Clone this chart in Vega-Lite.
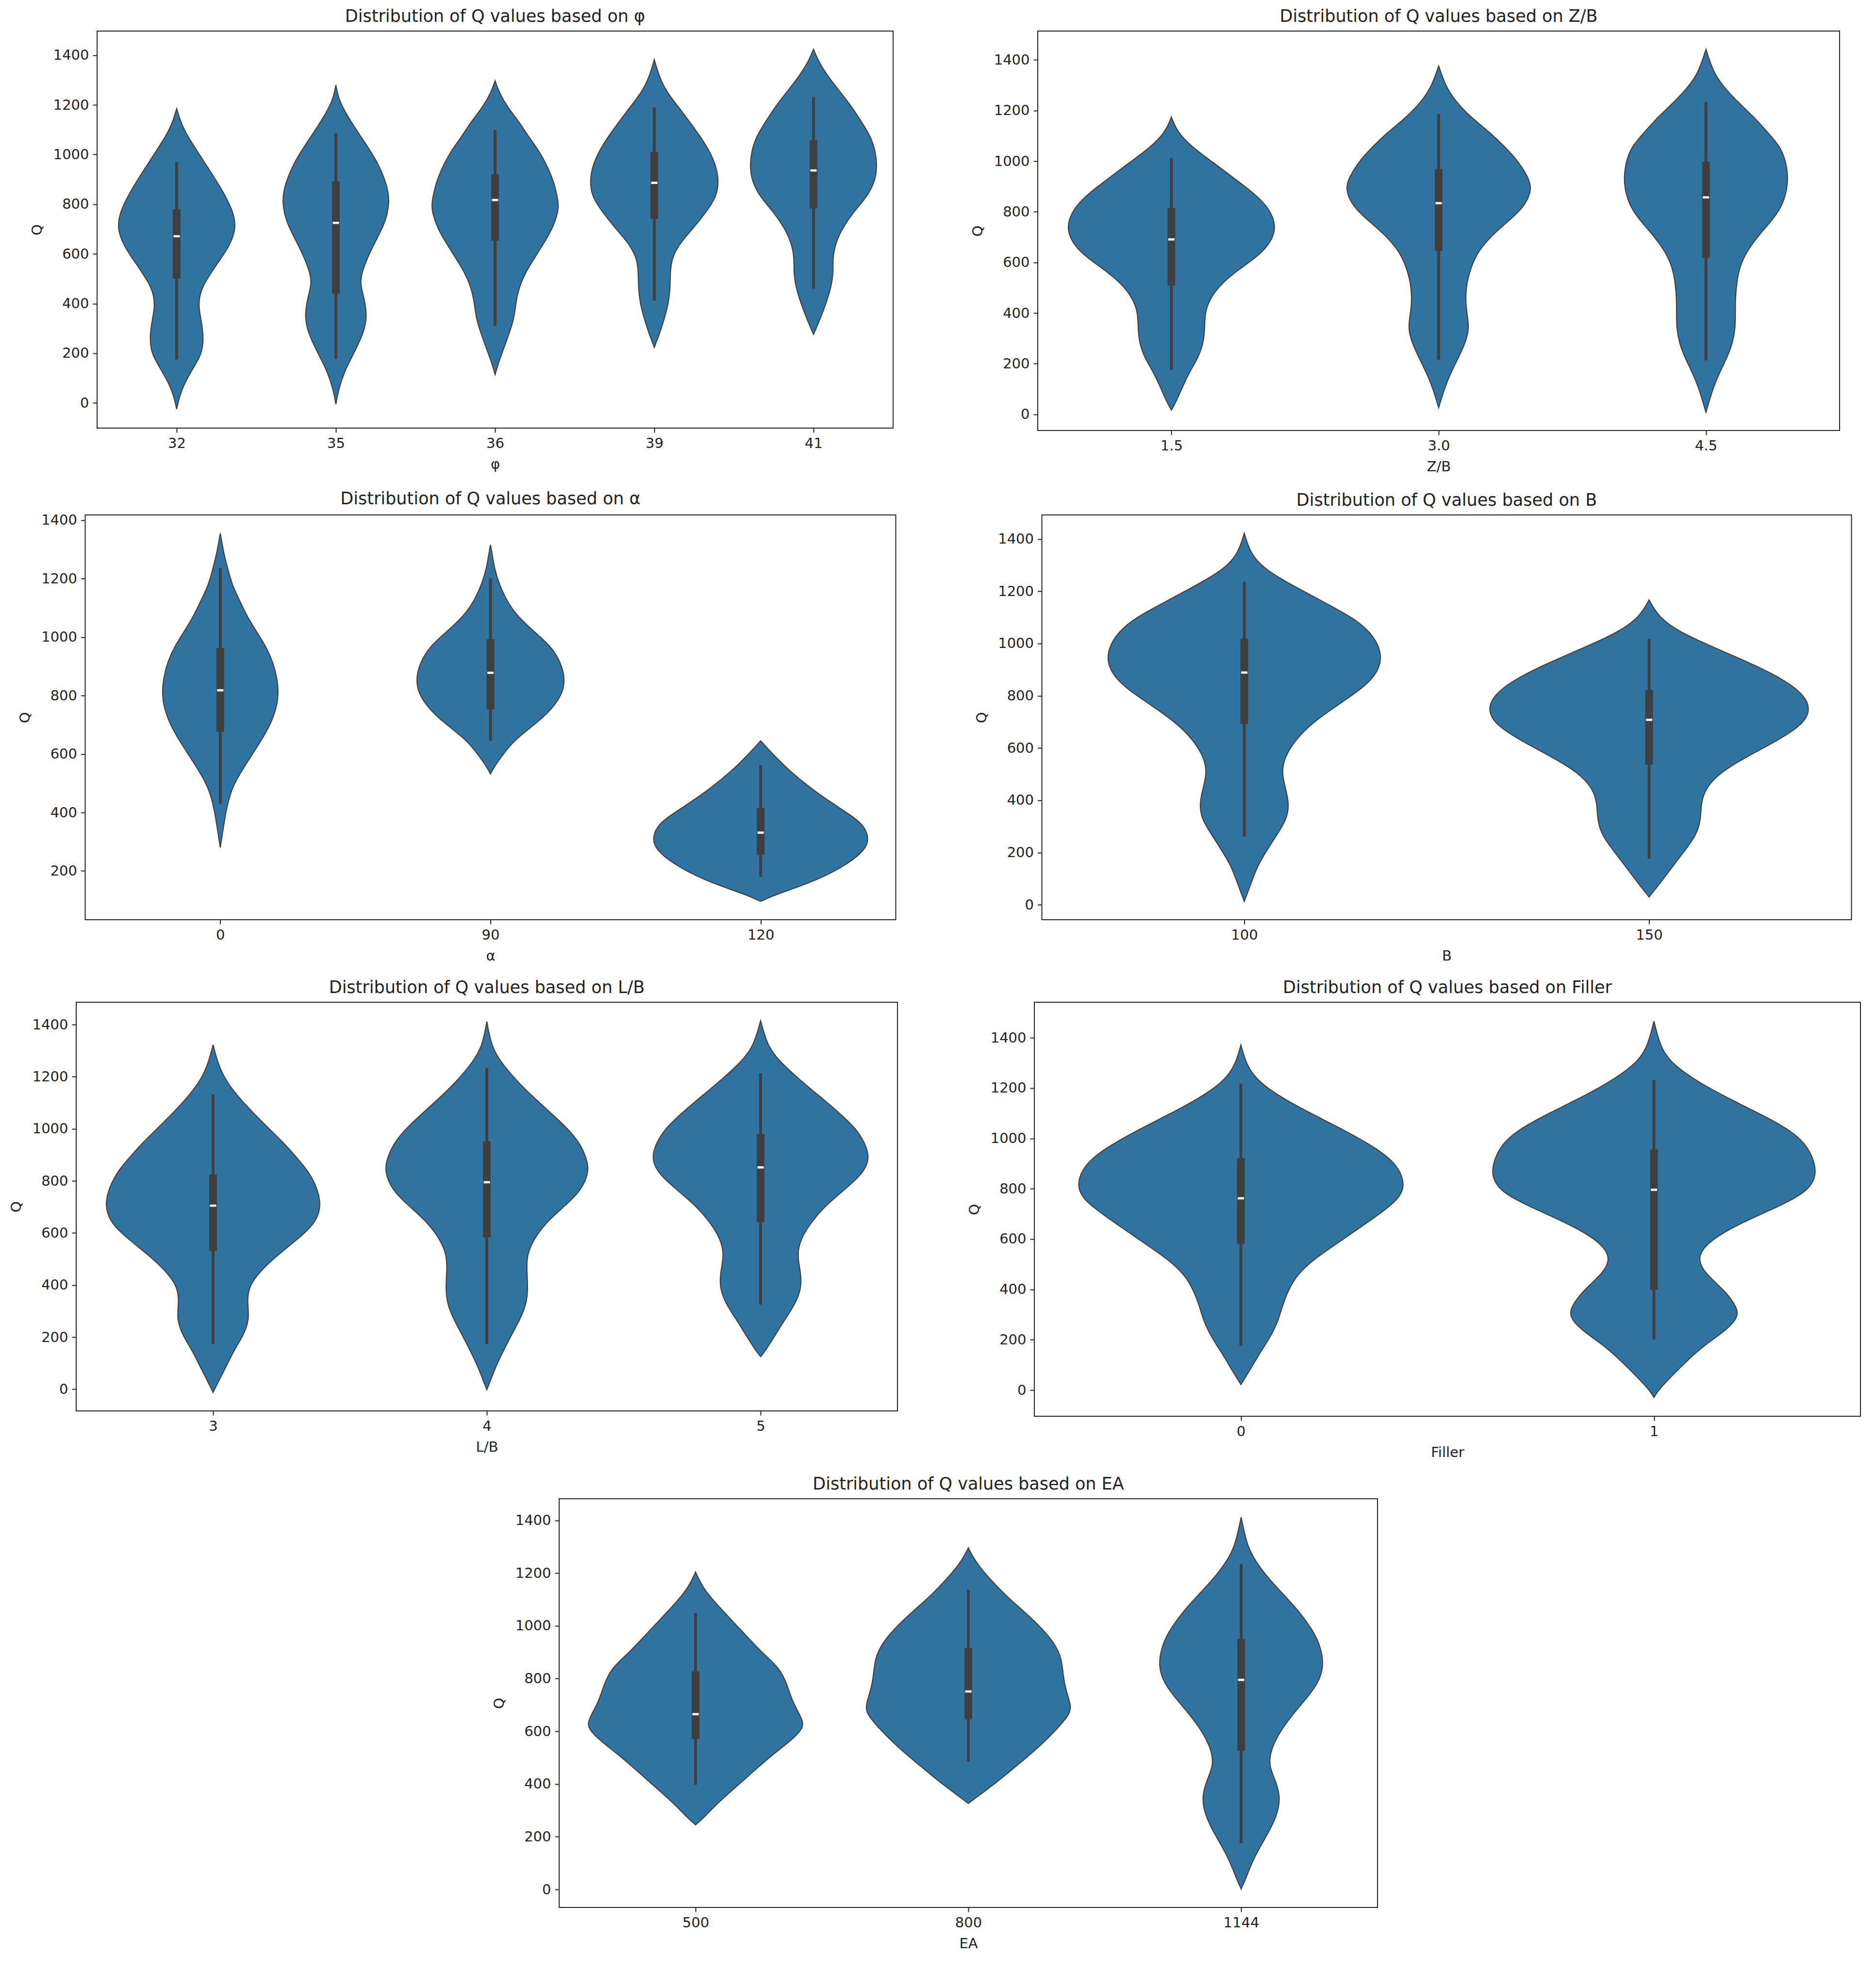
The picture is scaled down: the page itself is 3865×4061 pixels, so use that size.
{
  "$schema": "https://vega.github.io/schema/vega-lite/v6.json",
  "background": "white",
  "padding": {"left": 18, "top": 16, "right": 5, "bottom": 5},
  "config": {
    "view": {"stroke": "#222222", "strokeWidth": 2},
    "axis": {"labelFont": "DejaVu Sans", "labelFontSize": 29, "labelColor": "#222222", "titleFont": "DejaVu Sans", "titleFontSize": 29, "titleFontWeight": "normal", "titleColor": "#222222", "tickColor": "#222222", "tickWidth": 2, "tickSize": 9, "labelPadding": 8, "grid": false, "domain": false, "labelFlush": false, "labelOverlap": false, "labelBound": false},
    "axisX": {"titlePadding": 14},
    "axisY": {"titlePadding": 18},
    "title": {"font": "DejaVu Sans", "fontSize": 35, "fontWeight": "normal", "color": "#222222", "offset": 12}
  },
  "datasets": {
    "v_phi": [
      {"c":0,"q":-25,"lo":0,"hi":0},{"c":0,"q":25,"lo":-0.017,"hi":0.017},{"c":0,"q":75,"lo":-0.045,"hi":0.045},{"c":0,"q":145,"lo":-0.108,"hi":0.108},{"c":0,"q":195,"lo":-0.155,"hi":0.155},{"c":0,"q":255,"lo":-0.17,"hi":0.17},{"c":0,"q":325,"lo":-0.157,"hi":0.157},{"c":0,"q":375,"lo":-0.14,"hi":0.14},{"c":0,"q":425,"lo":-0.14,"hi":0.14},{"c":0,"q":475,"lo":-0.167,"hi":0.167},{"c":0,"q":525,"lo":-0.217,"hi":0.217},{"c":0,"q":575,"lo":-0.27,"hi":0.27},{"c":0,"q":625,"lo":-0.325,"hi":0.325},{"c":0,"q":700,"lo":-0.376,"hi":0.376},{"c":0,"q":775,"lo":-0.355,"hi":0.355},{"c":0,"q":875,"lo":-0.27,"hi":0.27},{"c":0,"q":975,"lo":-0.168,"hi":0.168},{"c":0,"q":1075,"lo":-0.066,"hi":0.066},{"c":0,"q":1130,"lo":-0.025,"hi":0.025},{"c":0,"q":1185,"lo":0,"hi":0},
      {"c":1,"q":-5,"lo":1,"hi":1},{"c":1,"q":55,"lo":0.983,"hi":1.017},{"c":1,"q":125,"lo":0.948,"hi":1.052},{"c":1,"q":195,"lo":0.891,"hi":1.109},{"c":1,"q":275,"lo":0.83,"hi":1.17},{"c":1,"q":345,"lo":0.802,"hi":1.198},{"c":1,"q":425,"lo":0.823,"hi":1.177},{"c":1,"q":475,"lo":0.847,"hi":1.153},{"c":1,"q":525,"lo":0.84,"hi":1.16},{"c":1,"q":625,"lo":0.775,"hi":1.225},{"c":1,"q":725,"lo":0.687,"hi":1.313},{"c":1,"q":810,"lo":0.662,"hi":1.338},{"c":1,"q":875,"lo":0.677,"hi":1.323},{"c":1,"q":975,"lo":0.74,"hi":1.26},{"c":1,"q":1075,"lo":0.847,"hi":1.153},{"c":1,"q":1175,"lo":0.948,"hi":1.052},{"c":1,"q":1230,"lo":0.985,"hi":1.015},{"c":1,"q":1280,"lo":1,"hi":1},
      {"c":2,"q":114,"lo":2,"hi":2},{"c":2,"q":160,"lo":1.98,"hi":2.02},{"c":2,"q":221,"lo":1.945,"hi":2.055},{"c":2,"q":282,"lo":1.91,"hi":2.09},{"c":2,"q":343,"lo":1.88,"hi":2.12},{"c":2,"q":403,"lo":1.87,"hi":2.13},{"c":2,"q":464,"lo":1.85,"hi":2.15},{"c":2,"q":525,"lo":1.81,"hi":2.19},{"c":2,"q":586,"lo":1.75,"hi":2.25},{"c":2,"q":647,"lo":1.69,"hi":2.31},{"c":2,"q":707,"lo":1.635,"hi":2.365},{"c":2,"q":768,"lo":1.605,"hi":2.395},{"c":2,"q":804,"lo":1.6,"hi":2.4},{"c":2,"q":890,"lo":1.63,"hi":2.37},{"c":2,"q":950,"lo":1.67,"hi":2.33},{"c":2,"q":1011,"lo":1.72,"hi":2.28},{"c":2,"q":1072,"lo":1.79,"hi":2.21},{"c":2,"q":1133,"lo":1.85,"hi":2.15},{"c":2,"q":1193,"lo":1.925,"hi":2.075},{"c":2,"q":1250,"lo":1.975,"hi":2.025},{"c":2,"q":1297,"lo":2,"hi":2},
      {"c":3,"q":224,"lo":3,"hi":3},{"c":3,"q":282,"lo":2.965,"hi":3.035},{"c":3,"q":343,"lo":2.935,"hi":3.065},{"c":3,"q":403,"lo":2.91,"hi":3.09},{"c":3,"q":464,"lo":2.9,"hi":3.1},{"c":3,"q":525,"lo":2.9,"hi":3.1},{"c":3,"q":586,"lo":2.89,"hi":3.11},{"c":3,"q":647,"lo":2.835,"hi":3.165},{"c":3,"q":707,"lo":2.75,"hi":3.25},{"c":3,"q":768,"lo":2.675,"hi":3.325},{"c":3,"q":829,"lo":2.61,"hi":3.39},{"c":3,"q":890,"lo":2.595,"hi":3.405},{"c":3,"q":950,"lo":2.61,"hi":3.39},{"c":3,"q":1011,"lo":2.65,"hi":3.35},{"c":3,"q":1072,"lo":2.71,"hi":3.29},{"c":3,"q":1133,"lo":2.78,"hi":3.22},{"c":3,"q":1193,"lo":2.85,"hi":3.15},{"c":3,"q":1254,"lo":2.925,"hi":3.075},{"c":3,"q":1315,"lo":2.97,"hi":3.03},{"c":3,"q":1382,"lo":3,"hi":3},
      {"c":4,"q":276,"lo":4,"hi":4},{"c":4,"q":343,"lo":3.955,"hi":4.045},{"c":4,"q":403,"lo":3.92,"hi":4.08},{"c":4,"q":464,"lo":3.89,"hi":4.11},{"c":4,"q":525,"lo":3.875,"hi":4.125},{"c":4,"q":586,"lo":3.88,"hi":4.12},{"c":4,"q":647,"lo":3.86,"hi":4.14},{"c":4,"q":707,"lo":3.815,"hi":4.185},{"c":4,"q":768,"lo":3.75,"hi":4.25},{"c":4,"q":829,"lo":3.665,"hi":4.335},{"c":4,"q":890,"lo":3.615,"hi":4.385},{"c":4,"q":950,"lo":3.6,"hi":4.4},{"c":4,"q":1011,"lo":3.61,"hi":4.39},{"c":4,"q":1072,"lo":3.64,"hi":4.36},{"c":4,"q":1133,"lo":3.7,"hi":4.3},{"c":4,"q":1193,"lo":3.76,"hi":4.24},{"c":4,"q":1254,"lo":3.835,"hi":4.165},{"c":4,"q":1315,"lo":3.91,"hi":4.09},{"c":4,"q":1376,"lo":3.97,"hi":4.03},{"c":4,"q":1424,"lo":4,"hi":4}
    ],
    "b_phi": [
      {"c":0,"wlo":175,"whi":970,"q1":500,"q3":780,"med":671},
      {"c":1,"wlo":178,"whi":1085,"q1":440,"q3":892,"med":725},
      {"c":2,"wlo":310,"whi":1100,"q1":653,"q3":920,"med":817},
      {"c":3,"wlo":412,"whi":1190,"q1":741,"q3":1011,"med":886},
      {"c":4,"wlo":460,"whi":1232,"q1":783,"q3":1057,"med":936}
    ],
    "v_zb": [
      {"c":0,"q":17,"lo":0,"hi":0},{"c":0,"q":44,"lo":-0.015,"hi":0.015},{"c":0,"q":104,"lo":-0.04,"hi":0.04},{"c":0,"q":163,"lo":-0.065,"hi":0.065},{"c":0,"q":222,"lo":-0.1,"hi":0.1},{"c":0,"q":282,"lo":-0.12,"hi":0.12},{"c":0,"q":341,"lo":-0.125,"hi":0.125},{"c":0,"q":401,"lo":-0.125,"hi":0.125},{"c":0,"q":460,"lo":-0.145,"hi":0.145},{"c":0,"q":520,"lo":-0.19,"hi":0.19},{"c":0,"q":579,"lo":-0.26,"hi":0.26},{"c":0,"q":639,"lo":-0.345,"hi":0.345},{"c":0,"q":728,"lo":-0.4,"hi":0.4},{"c":0,"q":818,"lo":-0.365,"hi":0.365},{"c":0,"q":877,"lo":-0.305,"hi":0.305},{"c":0,"q":936,"lo":-0.23,"hi":0.23},{"c":0,"q":996,"lo":-0.155,"hi":0.155},{"c":0,"q":1055,"lo":-0.078,"hi":0.078},{"c":0,"q":1115,"lo":-0.022,"hi":0.022},{"c":0,"q":1174,"lo":0,"hi":0},
      {"c":1,"q":26,"lo":1,"hi":1},{"c":1,"q":104,"lo":0.978,"hi":1.022},{"c":1,"q":163,"lo":0.955,"hi":1.045},{"c":1,"q":222,"lo":0.927,"hi":1.073},{"c":1,"q":282,"lo":0.9,"hi":1.1},{"c":1,"q":341,"lo":0.885,"hi":1.115},{"c":1,"q":401,"lo":0.895,"hi":1.105},{"c":1,"q":460,"lo":0.9,"hi":1.1},{"c":1,"q":520,"lo":0.895,"hi":1.105},{"c":1,"q":579,"lo":0.88,"hi":1.12},{"c":1,"q":639,"lo":0.855,"hi":1.145},{"c":1,"q":698,"lo":0.81,"hi":1.19},{"c":1,"q":758,"lo":0.745,"hi":1.255},{"c":1,"q":818,"lo":0.68,"hi":1.32},{"c":1,"q":889,"lo":0.65,"hi":1.35},{"c":1,"q":936,"lo":0.665,"hi":1.335},{"c":1,"q":996,"lo":0.7,"hi":1.3},{"c":1,"q":1055,"lo":0.75,"hi":1.25},{"c":1,"q":1115,"lo":0.81,"hi":1.19},{"c":1,"q":1174,"lo":0.88,"hi":1.12},{"c":1,"q":1233,"lo":0.934,"hi":1.066},{"c":1,"q":1293,"lo":0.973,"hi":1.027},{"c":1,"q":1376,"lo":1,"hi":1},
      {"c":2,"q":8,"lo":2,"hi":2},{"c":2,"q":44,"lo":1.99,"hi":2.01},{"c":2,"q":104,"lo":1.973,"hi":2.027},{"c":2,"q":163,"lo":1.95,"hi":2.05},{"c":2,"q":222,"lo":1.922,"hi":2.078},{"c":2,"q":282,"lo":1.9,"hi":2.1},{"c":2,"q":341,"lo":1.89,"hi":2.11},{"c":2,"q":401,"lo":1.89,"hi":2.11},{"c":2,"q":460,"lo":1.89,"hi":2.11},{"c":2,"q":520,"lo":1.885,"hi":2.115},{"c":2,"q":579,"lo":1.875,"hi":2.125},{"c":2,"q":639,"lo":1.85,"hi":2.15},{"c":2,"q":698,"lo":1.81,"hi":2.19},{"c":2,"q":758,"lo":1.76,"hi":2.24},{"c":2,"q":818,"lo":1.715,"hi":2.285},{"c":2,"q":912,"lo":1.69,"hi":2.31},{"c":2,"q":996,"lo":1.7,"hi":2.3},{"c":2,"q":1055,"lo":1.72,"hi":2.28},{"c":2,"q":1115,"lo":1.77,"hi":2.23},{"c":2,"q":1174,"lo":1.82,"hi":2.18},{"c":2,"q":1233,"lo":1.88,"hi":2.12},{"c":2,"q":1293,"lo":1.934,"hi":2.066},{"c":2,"q":1352,"lo":1.973,"hi":2.027},{"c":2,"q":1442,"lo":2,"hi":2}
    ],
    "b_zb": [
      {"c":0,"wlo":175,"whi":1013,"q1":508,"q3":814,"med":691},
      {"c":1,"wlo":216,"whi":1186,"q1":645,"q3":969,"med":834},
      {"c":2,"wlo":213,"whi":1233,"q1":618,"q3":998,"med":857}
    ],
    "v_alpha": [
      {"c":0,"q":280,"lo":0,"hi":0},{"c":0,"q":328,"lo":-0.008,"hi":0.008},{"c":0,"q":381,"lo":-0.017,"hi":0.017},{"c":0,"q":434,"lo":-0.028,"hi":0.028},{"c":0,"q":487,"lo":-0.045,"hi":0.045},{"c":0,"q":541,"lo":-0.078,"hi":0.078},{"c":0,"q":594,"lo":-0.115,"hi":0.115},{"c":0,"q":647,"lo":-0.152,"hi":0.152},{"c":0,"q":700,"lo":-0.185,"hi":0.185},{"c":0,"q":754,"lo":-0.207,"hi":0.207},{"c":0,"q":807,"lo":-0.216,"hi":0.216},{"c":0,"q":860,"lo":-0.21,"hi":0.21},{"c":0,"q":913,"lo":-0.196,"hi":0.196},{"c":0,"q":967,"lo":-0.17,"hi":0.17},{"c":0,"q":1020,"lo":-0.133,"hi":0.133},{"c":0,"q":1073,"lo":-0.098,"hi":0.098},{"c":0,"q":1126,"lo":-0.071,"hi":0.071},{"c":0,"q":1180,"lo":-0.043,"hi":0.043},{"c":0,"q":1233,"lo":-0.028,"hi":0.028},{"c":0,"q":1286,"lo":-0.013,"hi":0.013},{"c":0,"q":1355,"lo":0,"hi":0},
      {"c":1,"q":532,"lo":1,"hi":1},{"c":1,"q":562,"lo":0.982,"hi":1.018},{"c":1,"q":594,"lo":0.957,"hi":1.043},{"c":1,"q":647,"lo":0.913,"hi":1.087},{"c":1,"q":700,"lo":0.837,"hi":1.163},{"c":1,"q":754,"lo":0.772,"hi":1.228},{"c":1,"q":807,"lo":0.733,"hi":1.267},{"c":1,"q":860,"lo":0.724,"hi":1.276},{"c":1,"q":913,"lo":0.74,"hi":1.26},{"c":1,"q":967,"lo":0.774,"hi":1.226},{"c":1,"q":1020,"lo":0.84,"hi":1.16},{"c":1,"q":1073,"lo":0.902,"hi":1.098},{"c":1,"q":1126,"lo":0.941,"hi":1.059},{"c":1,"q":1180,"lo":0.967,"hi":1.033},{"c":1,"q":1233,"lo":0.985,"hi":1.015},{"c":1,"q":1286,"lo":0.994,"hi":1.006},{"c":1,"q":1316,"lo":1,"hi":1},
      {"c":2,"q":96,"lo":2,"hi":2},{"c":2,"q":115,"lo":1.955,"hi":2.045},{"c":2,"q":136,"lo":1.891,"hi":2.109},{"c":2,"q":168,"lo":1.793,"hi":2.207},{"c":2,"q":221,"lo":1.68,"hi":2.32},{"c":2,"q":275,"lo":1.61,"hi":2.39},{"c":2,"q":312,"lo":1.6,"hi":2.4},{"c":2,"q":350,"lo":1.615,"hi":2.385},{"c":2,"q":381,"lo":1.65,"hi":2.35},{"c":2,"q":434,"lo":1.74,"hi":2.26},{"c":2,"q":487,"lo":1.82,"hi":2.18},{"c":2,"q":541,"lo":1.891,"hi":2.109},{"c":2,"q":594,"lo":1.95,"hi":2.05},{"c":2,"q":645,"lo":2,"hi":2}
    ],
    "b_alpha": [
      {"c":0,"wlo":430,"whi":1236,"q1":676,"q3":963,"med":818},
      {"c":1,"wlo":645,"whi":1201,"q1":752,"q3":993,"med":878},
      {"c":2,"wlo":179,"whi":562,"q1":255,"q3":415,"med":331}
    ],
    "v_b": [
      {"c":0,"q":13,"lo":0,"hi":0},{"c":0,"q":88,"lo":-0.018,"hi":0.018},{"c":0,"q":147,"lo":-0.032,"hi":0.032},{"c":0,"q":207,"lo":-0.055,"hi":0.055},{"c":0,"q":267,"lo":-0.08,"hi":0.08},{"c":0,"q":327,"lo":-0.105,"hi":0.105},{"c":0,"q":386,"lo":-0.111,"hi":0.111},{"c":0,"q":446,"lo":-0.102,"hi":0.102},{"c":0,"q":506,"lo":-0.092,"hi":0.092},{"c":0,"q":566,"lo":-0.1,"hi":0.1},{"c":0,"q":626,"lo":-0.124,"hi":0.124},{"c":0,"q":686,"lo":-0.16,"hi":0.16},{"c":0,"q":745,"lo":-0.212,"hi":0.212},{"c":0,"q":805,"lo":-0.27,"hi":0.27},{"c":0,"q":865,"lo":-0.32,"hi":0.32},{"c":0,"q":949,"lo":-0.346,"hi":0.346},{"c":0,"q":1045,"lo":-0.314,"hi":0.314},{"c":0,"q":1104,"lo":-0.263,"hi":0.263},{"c":0,"q":1164,"lo":-0.19,"hi":0.19},{"c":0,"q":1224,"lo":-0.117,"hi":0.117},{"c":0,"q":1284,"lo":-0.05,"hi":0.05},{"c":0,"q":1344,"lo":-0.015,"hi":0.015},{"c":0,"q":1422,"lo":0,"hi":0},
      {"c":1,"q":30,"lo":1,"hi":1},{"c":1,"q":88,"lo":0.97,"hi":1.03},{"c":1,"q":147,"lo":0.942,"hi":1.058},{"c":1,"q":207,"lo":0.912,"hi":1.088},{"c":1,"q":267,"lo":0.883,"hi":1.117},{"c":1,"q":327,"lo":0.872,"hi":1.128},{"c":1,"q":386,"lo":0.872,"hi":1.128},{"c":1,"q":446,"lo":0.861,"hi":1.139},{"c":1,"q":506,"lo":0.825,"hi":1.175},{"c":1,"q":566,"lo":0.76,"hi":1.24},{"c":1,"q":626,"lo":0.686,"hi":1.314},{"c":1,"q":686,"lo":0.623,"hi":1.377},{"c":1,"q":745,"lo":0.6,"hi":1.4},{"c":1,"q":805,"lo":0.617,"hi":1.383},{"c":1,"q":865,"lo":0.67,"hi":1.33},{"c":1,"q":925,"lo":0.75,"hi":1.25},{"c":1,"q":985,"lo":0.84,"hi":1.16},{"c":1,"q":1045,"lo":0.927,"hi":1.073},{"c":1,"q":1104,"lo":0.978,"hi":1.022},{"c":1,"q":1167,"lo":1,"hi":1}
    ],
    "b_b": [
      {"c":0,"wlo":261,"whi":1236,"q1":692,"q3":1018,"med":889},
      {"c":1,"wlo":177,"whi":1018,"q1":536,"q3":823,"med":708}
    ],
    "v_lb": [
      {"c":0,"q":-12,"lo":0,"hi":0},{"c":0,"q":25,"lo":-0.017,"hi":0.017},{"c":0,"q":86,"lo":-0.047,"hi":0.047},{"c":0,"q":147,"lo":-0.075,"hi":0.075},{"c":0,"q":209,"lo":-0.112,"hi":0.112},{"c":0,"q":270,"lo":-0.133,"hi":0.133},{"c":0,"q":332,"lo":-0.125,"hi":0.125},{"c":0,"q":393,"lo":-0.129,"hi":0.129},{"c":0,"q":454,"lo":-0.172,"hi":0.172},{"c":0,"q":516,"lo":-0.236,"hi":0.236},{"c":0,"q":577,"lo":-0.31,"hi":0.31},{"c":0,"q":639,"lo":-0.376,"hi":0.376},{"c":0,"q":718,"lo":-0.4,"hi":0.4},{"c":0,"q":823,"lo":-0.36,"hi":0.36},{"c":0,"q":884,"lo":-0.31,"hi":0.31},{"c":0,"q":946,"lo":-0.258,"hi":0.258},{"c":0,"q":1007,"lo":-0.198,"hi":0.198},{"c":0,"q":1068,"lo":-0.14,"hi":0.14},{"c":0,"q":1130,"lo":-0.086,"hi":0.086},{"c":0,"q":1191,"lo":-0.043,"hi":0.043},{"c":0,"q":1253,"lo":-0.017,"hi":0.017},{"c":0,"q":1323,"lo":0,"hi":0},
      {"c":1,"q":-2,"lo":1,"hi":1},{"c":1,"q":25,"lo":0.99,"hi":1.01},{"c":1,"q":86,"lo":0.968,"hi":1.032},{"c":1,"q":147,"lo":0.94,"hi":1.06},{"c":1,"q":209,"lo":0.91,"hi":1.09},{"c":1,"q":270,"lo":0.878,"hi":1.122},{"c":1,"q":332,"lo":0.854,"hi":1.146},{"c":1,"q":393,"lo":0.85,"hi":1.15},{"c":1,"q":454,"lo":0.854,"hi":1.146},{"c":1,"q":516,"lo":0.854,"hi":1.146},{"c":1,"q":577,"lo":0.828,"hi":1.172},{"c":1,"q":639,"lo":0.785,"hi":1.215},{"c":1,"q":700,"lo":0.72,"hi":1.28},{"c":1,"q":761,"lo":0.656,"hi":1.344},{"c":1,"q":835,"lo":0.626,"hi":1.374},{"c":1,"q":884,"lo":0.635,"hi":1.365},{"c":1,"q":946,"lo":0.66,"hi":1.34},{"c":1,"q":1007,"lo":0.71,"hi":1.29},{"c":1,"q":1068,"lo":0.774,"hi":1.226},{"c":1,"q":1130,"lo":0.839,"hi":1.161},{"c":1,"q":1191,"lo":0.897,"hi":1.103},{"c":1,"q":1253,"lo":0.946,"hi":1.054},{"c":1,"q":1314,"lo":0.983,"hi":1.017},{"c":1,"q":1412,"lo":1,"hi":1},
      {"c":2,"q":125,"lo":2,"hi":2},{"c":2,"q":147,"lo":1.983,"hi":2.017},{"c":2,"q":209,"lo":1.946,"hi":2.054},{"c":2,"q":270,"lo":1.91,"hi":2.09},{"c":2,"q":332,"lo":1.871,"hi":2.129},{"c":2,"q":393,"lo":1.85,"hi":2.15},{"c":2,"q":454,"lo":1.854,"hi":2.146},{"c":2,"q":516,"lo":1.867,"hi":2.133},{"c":2,"q":577,"lo":1.854,"hi":2.146},{"c":2,"q":639,"lo":1.817,"hi":2.183},{"c":2,"q":700,"lo":1.768,"hi":2.232},{"c":2,"q":761,"lo":1.7,"hi":2.3},{"c":2,"q":823,"lo":1.63,"hi":2.37},{"c":2,"q":884,"lo":1.6,"hi":2.4},{"c":2,"q":946,"lo":1.618,"hi":2.382},{"c":2,"q":1007,"lo":1.656,"hi":2.344},{"c":2,"q":1068,"lo":1.72,"hi":2.28},{"c":2,"q":1130,"lo":1.79,"hi":2.21},{"c":2,"q":1191,"lo":1.86,"hi":2.14},{"c":2,"q":1253,"lo":1.925,"hi":2.075},{"c":2,"q":1314,"lo":1.974,"hi":2.026},{"c":2,"q":1415,"lo":2,"hi":2}
    ],
    "b_lb": [
      {"c":0,"wlo":174,"whi":1132,"q1":531,"q3":825,"med":705},
      {"c":1,"wlo":174,"whi":1234,"q1":583,"q3":952,"med":795},
      {"c":2,"wlo":325,"whi":1213,"q1":641,"q3":980,"med":852}
    ],
    "v_filler": [
      {"c":0,"q":22,"lo":0,"hi":0},{"c":0,"q":77,"lo":-0.021,"hi":0.021},{"c":0,"q":140,"lo":-0.043,"hi":0.043},{"c":0,"q":204,"lo":-0.069,"hi":0.069},{"c":0,"q":268,"lo":-0.089,"hi":0.089},{"c":0,"q":332,"lo":-0.1,"hi":0.1},{"c":0,"q":395,"lo":-0.114,"hi":0.114},{"c":0,"q":459,"lo":-0.136,"hi":0.136},{"c":0,"q":523,"lo":-0.179,"hi":0.179},{"c":0,"q":586,"lo":-0.236,"hi":0.236},{"c":0,"q":676,"lo":-0.315,"hi":0.315},{"c":0,"q":752,"lo":-0.38,"hi":0.38},{"c":0,"q":816,"lo":-0.4,"hi":0.4},{"c":0,"q":905,"lo":-0.375,"hi":0.375},{"c":0,"q":969,"lo":-0.32,"hi":0.32},{"c":0,"q":1033,"lo":-0.25,"hi":0.25},{"c":0,"q":1097,"lo":-0.172,"hi":0.172},{"c":0,"q":1160,"lo":-0.1,"hi":0.1},{"c":0,"q":1224,"lo":-0.043,"hi":0.043},{"c":0,"q":1288,"lo":-0.014,"hi":0.014},{"c":0,"q":1371,"lo":0,"hi":0},
      {"c":1,"q":-29,"lo":1,"hi":1},{"c":1,"q":0,"lo":0.989,"hi":1.011},{"c":1,"q":51,"lo":0.96,"hi":1.04},{"c":1,"q":115,"lo":0.921,"hi":1.079},{"c":1,"q":179,"lo":0.878,"hi":1.122},{"c":1,"q":242,"lo":0.821,"hi":1.179},{"c":1,"q":293,"lo":0.795,"hi":1.205},{"c":1,"q":332,"lo":0.8,"hi":1.2},{"c":1,"q":395,"lo":0.828,"hi":1.172},{"c":1,"q":459,"lo":0.874,"hi":1.126},{"c":1,"q":523,"lo":0.897,"hi":1.103},{"c":1,"q":586,"lo":0.871,"hi":1.129},{"c":1,"q":650,"lo":0.807,"hi":1.193},{"c":1,"q":714,"lo":0.72,"hi":1.28},{"c":1,"q":778,"lo":0.635,"hi":1.365},{"c":1,"q":854,"lo":0.6,"hi":1.4},{"c":1,"q":969,"lo":0.625,"hi":1.375},{"c":1,"q":1033,"lo":0.67,"hi":1.33},{"c":1,"q":1097,"lo":0.742,"hi":1.258},{"c":1,"q":1160,"lo":0.821,"hi":1.179},{"c":1,"q":1224,"lo":0.893,"hi":1.107},{"c":1,"q":1288,"lo":0.95,"hi":1.05},{"c":1,"q":1352,"lo":0.983,"hi":1.017},{"c":1,"q":1466,"lo":1,"hi":1}
    ],
    "b_filler": [
      {"c":0,"wlo":176,"whi":1218,"q1":580,"q3":921,"med":762},
      {"c":1,"wlo":201,"whi":1233,"q1":399,"q3":956,"med":796}
    ],
    "v_ea": [
      {"c":0,"q":245,"lo":0,"hi":0},{"c":0,"q":275,"lo":-0.033,"hi":0.033},{"c":0,"q":324,"lo":-0.077,"hi":0.077},{"c":0,"q":385,"lo":-0.144,"hi":0.144},{"c":0,"q":446,"lo":-0.21,"hi":0.21},{"c":0,"q":507,"lo":-0.277,"hi":0.277},{"c":0,"q":568,"lo":-0.354,"hi":0.354},{"c":0,"q":617,"lo":-0.4,"hi":0.4},{"c":0,"q":654,"lo":-0.387,"hi":0.387},{"c":0,"q":715,"lo":-0.354,"hi":0.354},{"c":0,"q":776,"lo":-0.336,"hi":0.336},{"c":0,"q":838,"lo":-0.31,"hi":0.31},{"c":0,"q":899,"lo":-0.243,"hi":0.243},{"c":0,"q":960,"lo":-0.188,"hi":0.188},{"c":0,"q":1021,"lo":-0.133,"hi":0.133},{"c":0,"q":1082,"lo":-0.077,"hi":0.077},{"c":0,"q":1143,"lo":-0.027,"hi":0.027},{"c":0,"q":1204,"lo":0,"hi":0},
      {"c":1,"q":326,"lo":1,"hi":1},{"c":1,"q":348,"lo":0.973,"hi":1.027},{"c":1,"q":385,"lo":0.923,"hi":1.077},{"c":1,"q":446,"lo":0.85,"hi":1.15},{"c":1,"q":507,"lo":0.779,"hi":1.221},{"c":1,"q":568,"lo":0.712,"hi":1.288},{"c":1,"q":654,"lo":0.635,"hi":1.365},{"c":1,"q":691,"lo":0.62,"hi":1.38},{"c":1,"q":752,"lo":0.642,"hi":1.358},{"c":1,"q":813,"lo":0.653,"hi":1.347},{"c":1,"q":874,"lo":0.657,"hi":1.343},{"c":1,"q":935,"lo":0.684,"hi":1.316},{"c":1,"q":996,"lo":0.735,"hi":1.265},{"c":1,"q":1058,"lo":0.8,"hi":1.2},{"c":1,"q":1119,"lo":0.867,"hi":1.133},{"c":1,"q":1180,"lo":0.923,"hi":1.077},{"c":1,"q":1241,"lo":0.973,"hi":1.027},{"c":1,"q":1296,"lo":1,"hi":1},
      {"c":2,"q":2,"lo":2,"hi":2},{"c":2,"q":43,"lo":1.982,"hi":2.018},{"c":2,"q":104,"lo":1.96,"hi":2.04},{"c":2,"q":165,"lo":1.929,"hi":2.071},{"c":2,"q":226,"lo":1.894,"hi":2.106},{"c":2,"q":287,"lo":1.867,"hi":2.133},{"c":2,"q":348,"lo":1.856,"hi":2.144},{"c":2,"q":410,"lo":1.872,"hi":2.128},{"c":2,"q":471,"lo":1.9,"hi":2.1},{"c":2,"q":532,"lo":1.89,"hi":2.11},{"c":2,"q":593,"lo":1.861,"hi":2.139},{"c":2,"q":654,"lo":1.819,"hi":2.181},{"c":2,"q":715,"lo":1.768,"hi":2.232},{"c":2,"q":782,"lo":1.717,"hi":2.283},{"c":2,"q":850,"lo":1.695,"hi":2.305},{"c":2,"q":935,"lo":1.712,"hi":2.288},{"c":2,"q":996,"lo":1.746,"hi":2.254},{"c":2,"q":1058,"lo":1.79,"hi":2.21},{"c":2,"q":1119,"lo":1.845,"hi":2.155},{"c":2,"q":1180,"lo":1.9,"hi":2.1},{"c":2,"q":1241,"lo":1.945,"hi":2.055},{"c":2,"q":1302,"lo":1.978,"hi":2.022},{"c":2,"q":1412,"lo":2,"hi":2}
    ],
    "b_ea": [
      {"c":0,"wlo":397,"whi":1048,"q1":571,"q3":828,"med":665},
      {"c":1,"wlo":485,"whi":1137,"q1":646,"q3":916,"med":751},
      {"c":2,"wlo":175,"whi":1235,"q1":526,"q3":950,"med":795}
    ]
  },
  "spacing": 32,
  "center": true,
  "vconcat": [
    {
      "spacing": 158,
      "hconcat": [
        {
          "title": "Distribution of Q values based on φ",
          "width": 1640, "height": 818,
          "layer": [
            {"data": {"name": "v_phi"}, "mark": {"type": "area", "orient": "horizontal", "interpolate": "basis", "fill": "#3274a1", "stroke": "#3f3f3f", "strokeWidth": 2.2, "opacity": 1},
             "encoding": {"y": {"field": "q", "type": "quantitative", "title": "Q", "scale": {"domain": [-101, 1497], "nice": false, "zero": false}, "axis": {"values": [0,200,400,600,800,1000,1200,1400], "format": "d"}},
                          "x": {"field": "lo", "type": "quantitative", "title": "φ", "scale": {"domain": [-0.5, 4.5], "nice": false, "zero": false}, "axis": {"values": [0,1,2,3,4], "labelExpr": "['32','35','36','39','41'][datum.value]"}},
                          "x2": {"field": "hi"}, "detail": {"field": "c", "type": "nominal"}}},
            {"data": {"name": "b_phi"}, "mark": {"type": "rule", "color": "#3f3f3f", "strokeWidth": 6}, "encoding": {"x": {"field": "c", "type": "quantitative", "title": "φ"}, "y": {"field": "wlo", "type": "quantitative", "title": "Q"}, "y2": {"field": "whi"}}},
            {"data": {"name": "b_phi"}, "mark": {"type": "rule", "color": "#3f3f3f", "strokeWidth": 16, "strokeCap": "butt"}, "encoding": {"x": {"field": "c", "type": "quantitative", "title": "φ"}, "y": {"field": "q1", "type": "quantitative", "title": "Q"}, "y2": {"field": "q3"}}},
            {"data": {"name": "b_phi"}, "mark": {"type": "point", "shape": "M-1,-0.35L1,-0.35L1,0.35L-1,0.35Z", "filled": true, "fill": "white", "size": 169, "strokeWidth": 0, "opacity": 1}, "encoding": {"x": {"field": "c", "type": "quantitative", "title": "φ"}, "y": {"field": "med", "type": "quantitative", "title": "Q"}}}
          ]
        },
        {
          "title": "Distribution of Q values based on Z/B",
          "width": 1652, "height": 823,
          "layer": [
            {"data": {"name": "v_zb"}, "mark": {"type": "area", "orient": "horizontal", "interpolate": "basis", "fill": "#3274a1", "stroke": "#3f3f3f", "strokeWidth": 2.2, "opacity": 1},
             "encoding": {"y": {"field": "q", "type": "quantitative", "title": "Q", "scale": {"domain": [-64, 1514], "nice": false, "zero": false}, "axis": {"values": [0,200,400,600,800,1000,1200,1400], "format": "d"}},
                          "x": {"field": "lo", "type": "quantitative", "title": "Z/B", "scale": {"domain": [-0.5, 2.5], "nice": false, "zero": false}, "axis": {"values": [0,1,2], "labelExpr": "['1.5','3.0','4.5'][datum.value]"}},
                          "x2": {"field": "hi"}, "detail": {"field": "c", "type": "nominal"}}},
            {"data": {"name": "b_zb"}, "mark": {"type": "rule", "color": "#3f3f3f", "strokeWidth": 6}, "encoding": {"x": {"field": "c", "type": "quantitative", "title": "Z/B"}, "y": {"field": "wlo", "type": "quantitative", "title": "Q"}, "y2": {"field": "whi"}}},
            {"data": {"name": "b_zb"}, "mark": {"type": "rule", "color": "#3f3f3f", "strokeWidth": 16, "strokeCap": "butt"}, "encoding": {"x": {"field": "c", "type": "quantitative", "title": "Z/B"}, "y": {"field": "q1", "type": "quantitative", "title": "Q"}, "y2": {"field": "q3"}}},
            {"data": {"name": "b_zb"}, "mark": {"type": "point", "shape": "M-1,-0.35L1,-0.35L1,0.35L-1,0.35Z", "filled": true, "fill": "white", "size": 169, "strokeWidth": 0, "opacity": 1}, "encoding": {"x": {"field": "c", "type": "quantitative", "title": "Z/B"}, "y": {"field": "med", "type": "quantitative", "title": "Q"}}}
          ]
        }
      ]
    },
    {
      "spacing": 161,
      "hconcat": [
        {
          "title": "Distribution of Q values based on α",
          "width": 1670, "height": 834,
          "layer": [
            {"data": {"name": "v_alpha"}, "mark": {"type": "area", "orient": "horizontal", "interpolate": "basis", "fill": "#3274a1", "stroke": "#3f3f3f", "strokeWidth": 2.2, "opacity": 1},
             "encoding": {"y": {"field": "q", "type": "quantitative", "title": "Q", "scale": {"domain": [33, 1418], "nice": false, "zero": false}, "axis": {"values": [200,400,600,800,1000,1200,1400], "format": "d"}},
                          "x": {"field": "lo", "type": "quantitative", "title": "α", "scale": {"domain": [-0.5, 2.5], "nice": false, "zero": false}, "axis": {"values": [0,1,2], "labelExpr": "['0','90','120'][datum.value]"}},
                          "x2": {"field": "hi"}, "detail": {"field": "c", "type": "nominal"}}},
            {"data": {"name": "b_alpha"}, "mark": {"type": "rule", "color": "#3f3f3f", "strokeWidth": 6}, "encoding": {"x": {"field": "c", "type": "quantitative", "title": "α"}, "y": {"field": "wlo", "type": "quantitative", "title": "Q"}, "y2": {"field": "whi"}}},
            {"data": {"name": "b_alpha"}, "mark": {"type": "rule", "color": "#3f3f3f", "strokeWidth": 16, "strokeCap": "butt"}, "encoding": {"x": {"field": "c", "type": "quantitative", "title": "α"}, "y": {"field": "q1", "type": "quantitative", "title": "Q"}, "y2": {"field": "q3"}}},
            {"data": {"name": "b_alpha"}, "mark": {"type": "point", "shape": "M-1,-0.35L1,-0.35L1,0.35L-1,0.35Z", "filled": true, "fill": "white", "size": 169, "strokeWidth": 0, "opacity": 1}, "encoding": {"x": {"field": "c", "type": "quantitative", "title": "α"}, "y": {"field": "med", "type": "quantitative", "title": "Q"}}}
          ]
        },
        {
          "title": "Distribution of Q values based on B",
          "width": 1668, "height": 834,
          "layer": [
            {"data": {"name": "v_b"}, "mark": {"type": "area", "orient": "horizontal", "interpolate": "basis", "fill": "#3274a1", "stroke": "#3f3f3f", "strokeWidth": 2.2, "opacity": 1},
             "encoding": {"y": {"field": "q", "type": "quantitative", "title": "Q", "scale": {"domain": [-57, 1492], "nice": false, "zero": false}, "axis": {"values": [0,200,400,600,800,1000,1200,1400], "format": "d"}},
                          "x": {"field": "lo", "type": "quantitative", "title": "B", "scale": {"domain": [-0.5, 1.5], "nice": false, "zero": false}, "axis": {"values": [0,1], "labelExpr": "['100','150'][datum.value]"}},
                          "x2": {"field": "hi"}, "detail": {"field": "c", "type": "nominal"}}},
            {"data": {"name": "b_b"}, "mark": {"type": "rule", "color": "#3f3f3f", "strokeWidth": 6}, "encoding": {"x": {"field": "c", "type": "quantitative", "title": "B"}, "y": {"field": "wlo", "type": "quantitative", "title": "Q"}, "y2": {"field": "whi"}}},
            {"data": {"name": "b_b"}, "mark": {"type": "rule", "color": "#3f3f3f", "strokeWidth": 16, "strokeCap": "butt"}, "encoding": {"x": {"field": "c", "type": "quantitative", "title": "B"}, "y": {"field": "q1", "type": "quantitative", "title": "Q"}, "y2": {"field": "q3"}}},
            {"data": {"name": "b_b"}, "mark": {"type": "point", "shape": "M-1,-0.35L1,-0.35L1,0.35L-1,0.35Z", "filled": true, "fill": "white", "size": 169, "strokeWidth": 0, "opacity": 1}, "encoding": {"x": {"field": "c", "type": "quantitative", "title": "B"}, "y": {"field": "med", "type": "quantitative", "title": "Q"}}}
          ]
        }
      ]
    },
    {
      "spacing": 142,
      "hconcat": [
        {
          "title": "Distribution of Q values based on L/B",
          "width": 1692, "height": 842,
          "layer": [
            {"data": {"name": "v_lb"}, "mark": {"type": "area", "orient": "horizontal", "interpolate": "basis", "fill": "#3274a1", "stroke": "#3f3f3f", "strokeWidth": 2.2, "opacity": 1},
             "encoding": {"y": {"field": "q", "type": "quantitative", "title": "Q", "scale": {"domain": [-83, 1486], "nice": false, "zero": false}, "axis": {"values": [0,200,400,600,800,1000,1200,1400], "format": "d"}},
                          "x": {"field": "lo", "type": "quantitative", "title": "L/B", "scale": {"domain": [-0.5, 2.5], "nice": false, "zero": false}, "axis": {"values": [0,1,2], "labelExpr": "['3','4','5'][datum.value]"}},
                          "x2": {"field": "hi"}, "detail": {"field": "c", "type": "nominal"}}},
            {"data": {"name": "b_lb"}, "mark": {"type": "rule", "color": "#3f3f3f", "strokeWidth": 6}, "encoding": {"x": {"field": "c", "type": "quantitative", "title": "L/B"}, "y": {"field": "wlo", "type": "quantitative", "title": "Q"}, "y2": {"field": "whi"}}},
            {"data": {"name": "b_lb"}, "mark": {"type": "rule", "color": "#3f3f3f", "strokeWidth": 16, "strokeCap": "butt"}, "encoding": {"x": {"field": "c", "type": "quantitative", "title": "L/B"}, "y": {"field": "q1", "type": "quantitative", "title": "Q"}, "y2": {"field": "q3"}}},
            {"data": {"name": "b_lb"}, "mark": {"type": "point", "shape": "M-1,-0.35L1,-0.35L1,0.35L-1,0.35Z", "filled": true, "fill": "white", "size": 169, "strokeWidth": 0, "opacity": 1}, "encoding": {"x": {"field": "c", "type": "quantitative", "title": "L/B"}, "y": {"field": "med", "type": "quantitative", "title": "Q"}}}
          ]
        },
        {
          "title": "Distribution of Q values based on Filler",
          "width": 1702, "height": 853,
          "layer": [
            {"data": {"name": "v_filler"}, "mark": {"type": "area", "orient": "horizontal", "interpolate": "basis", "fill": "#3274a1", "stroke": "#3f3f3f", "strokeWidth": 2.2, "opacity": 1},
             "encoding": {"y": {"field": "q", "type": "quantitative", "title": "Q", "scale": {"domain": [-104, 1541], "nice": false, "zero": false}, "axis": {"values": [0,200,400,600,800,1000,1200,1400], "format": "d"}},
                          "x": {"field": "lo", "type": "quantitative", "title": "Filler", "scale": {"domain": [-0.5, 1.5], "nice": false, "zero": false}, "axis": {"values": [0,1], "labelExpr": "['0','1'][datum.value]"}},
                          "x2": {"field": "hi"}, "detail": {"field": "c", "type": "nominal"}}},
            {"data": {"name": "b_filler"}, "mark": {"type": "rule", "color": "#3f3f3f", "strokeWidth": 6}, "encoding": {"x": {"field": "c", "type": "quantitative", "title": "Filler"}, "y": {"field": "wlo", "type": "quantitative", "title": "Q"}, "y2": {"field": "whi"}}},
            {"data": {"name": "b_filler"}, "mark": {"type": "rule", "color": "#3f3f3f", "strokeWidth": 16, "strokeCap": "butt"}, "encoding": {"x": {"field": "c", "type": "quantitative", "title": "Filler"}, "y": {"field": "q1", "type": "quantitative", "title": "Q"}, "y2": {"field": "q3"}}},
            {"data": {"name": "b_filler"}, "mark": {"type": "point", "shape": "M-1,-0.35L1,-0.35L1,0.35L-1,0.35Z", "filled": true, "fill": "white", "size": 169, "strokeWidth": 0, "opacity": 1}, "encoding": {"x": {"field": "c", "type": "quantitative", "title": "Filler"}, "y": {"field": "med", "type": "quantitative", "title": "Q"}}}
          ]
        }
      ]
    },
    {
      "title": "Distribution of Q values based on EA",
      "width": 1686, "height": 842,
      "layer": [
        {"data": {"name": "v_ea"}, "mark": {"type": "area", "orient": "horizontal", "interpolate": "basis", "fill": "#3274a1", "stroke": "#3f3f3f", "strokeWidth": 2.2, "opacity": 1},
         "encoding": {"y": {"field": "q", "type": "quantitative", "title": "Q", "scale": {"domain": [-68, 1482], "nice": false, "zero": false}, "axis": {"values": [0,200,400,600,800,1000,1200,1400], "format": "d"}},
                      "x": {"field": "lo", "type": "quantitative", "title": "EA", "scale": {"domain": [-0.5, 2.5], "nice": false, "zero": false}, "axis": {"values": [0,1,2], "labelExpr": "['500','800','1144'][datum.value]"}},
                      "x2": {"field": "hi"}, "detail": {"field": "c", "type": "nominal"}}},
        {"data": {"name": "b_ea"}, "mark": {"type": "rule", "color": "#3f3f3f", "strokeWidth": 6}, "encoding": {"x": {"field": "c", "type": "quantitative", "title": "EA"}, "y": {"field": "wlo", "type": "quantitative", "title": "Q"}, "y2": {"field": "whi"}}},
        {"data": {"name": "b_ea"}, "mark": {"type": "rule", "color": "#3f3f3f", "strokeWidth": 16, "strokeCap": "butt"}, "encoding": {"x": {"field": "c", "type": "quantitative", "title": "EA"}, "y": {"field": "q1", "type": "quantitative", "title": "Q"}, "y2": {"field": "q3"}}},
        {"data": {"name": "b_ea"}, "mark": {"type": "point", "shape": "M-1,-0.35L1,-0.35L1,0.35L-1,0.35Z", "filled": true, "fill": "white", "size": 169, "strokeWidth": 0, "opacity": 1}, "encoding": {"x": {"field": "c", "type": "quantitative", "title": "EA"}, "y": {"field": "med", "type": "quantitative", "title": "Q"}}}
      ]
    }
  ]
}
